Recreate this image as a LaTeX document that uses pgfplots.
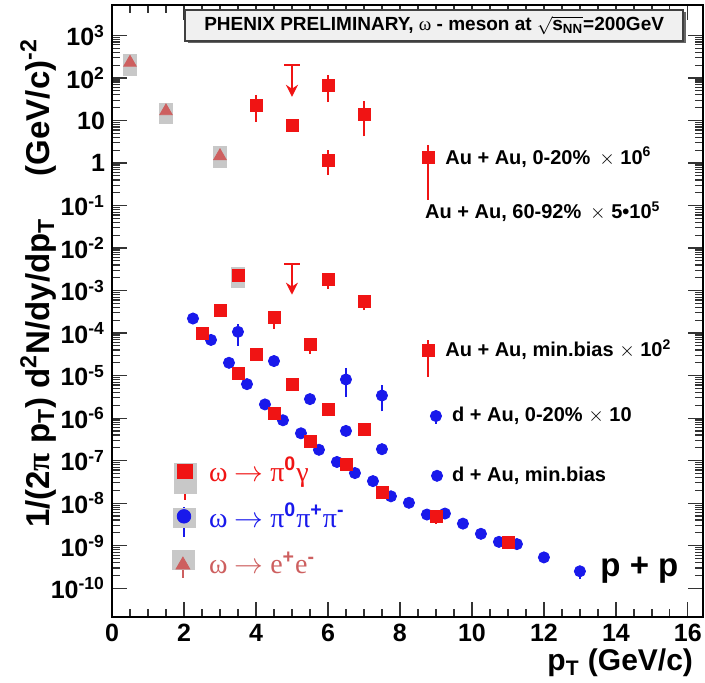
\documentclass[border=0pt]{standalone}
\usepackage{fontspec}
\setmainfont{Liberation Sans}
\newfontfamily\serif{Liberation Serif}
\newfontfamily\sans{Liberation Sans}
\usepackage{pgfplots}
\usepackage{pgfplotstable}
\pgfplotsset{compat=1.18}
\usetikzlibrary{arrows.meta,shadows}
\definecolor{rred}{RGB}{240,20,20}
\definecolor{rblue}{RGB}{25,25,235}
\definecolor{rtri}{RGB}{205,95,95}
\definecolor{sysgray}{RGB}{200,200,200}
\definecolor{boxgray}{RGB}{240,240,240}

\pgfplotstableread{
x y ep em
4.0 23 11 12
5.0 7.5 0.8 0.8
6.0 66 32 34
7.0 14 10 9
6.0 1.17 0.53 0.54
3.5 2.3e-3 0.2e-3 0.2e-3
6.0 1.8e-3 0.2e-3 0.5e-3
7.0 5.5e-4 0.5e-4 1.4e-4
3.0 3.5e-4 0.3e-4 0.6e-4
4.5 2.4e-4 0.3e-4 0.9e-4
5.5 5.4e-5 0.5e-5 1.6e-5
2.5 1.0e-4 0.1e-4 0.1e-4
4.0 3.2e-5 0.3e-5 0.3e-5
5.0 6.3e-6 0.5e-6 0.5e-6
6.0 1.6e-6 0.1e-6 0.3e-6
7.0 5.4e-7 0.4e-7 0.4e-7
3.5 1.1e-5 0.1e-5 0.1e-5
4.5 1.3e-6 0.1e-6 0.1e-6
5.5 2.8e-7 0.2e-7 0.4e-7
6.5 8.1e-8 0.5e-8 0.8e-8
7.5 1.8e-8 0.1e-8 0.2e-8
9.0 4.8e-9 0.5e-9 1.0e-9
11.0 1.17e-9 0.1e-9 0.2e-9
}\redsq

\pgfplotstableread{
x y ep em
3.5 1.07e-4 0.3e-4 0.48e-4
4.5 2.2e-5 0.2e-5 0.2e-5
5.5 2.8e-6 0.2e-6 0.2e-6
6.5 8.1e-6 4.9e-6 4.4e-6
7.5 3.4e-6 1.7e-6 1.7e-6
6.5 5.0e-7 0.3e-7 0.3e-7
7.5 1.86e-7 0.1e-7 0.1e-7
2.25 2.2e-4 0.1e-4 0.1e-4
2.75 6.9e-5 0.3e-5 0.3e-5
3.25 2.0e-5 0.1e-5 0.1e-5
3.75 6.3e-6 0.3e-6 0.3e-6
4.25 2.1e-6 0.1e-6 0.1e-6
4.75 8.9e-7 0.4e-7 0.4e-7
5.25 4.4e-7 0.2e-7 0.2e-7
5.75 1.8e-7 0.1e-7 0.1e-7
6.25 9.3e-8 0.5e-8 0.5e-8
6.75 5.1e-8 0.3e-8 0.3e-8
7.25 3.3e-8 0.2e-8 0.2e-8
7.75 1.45e-8 0.1e-8 0.1e-8
8.25 1.02e-8 0.05e-8 0.05e-8
8.75 5.4e-9 0.3e-9 0.3e-9
9.25 5.7e-9 0.3e-9 0.3e-9
9.75 3.3e-9 0.2e-9 0.3e-9
10.25 1.9e-9 0.1e-9 0.2e-9
10.75 1.23e-9 0.1e-9 0.1e-9
11.25 1.09e-9 0.1e-9 0.1e-9
12.0 5.3e-10 0.5e-10 0.8e-10
13.0 2.5e-10 0.3e-10 0.6e-10
}\bluec

\pgfplotstableread{
x y ep em
0.5 230 20 20
1.5 16.6 1.5 1.5
3.0 1.46 0.1 0.1
}\tri

\begin{document}
\begin{tikzpicture}
\useasboundingbox (-56pt,-32.5pt) rectangle (296.5pt,308.5pt);
\begin{axis}[
  at={(0,0)}, anchor=south west, scale only axis,
  width=295.5pt, height=306pt,
  xmin=0, xmax=16.42, ymode=log, ymin=2.1e-11, ymax=5.2e3,
  clip=false,
  axis line style={line width=0.8pt},
  xtick={0,2,4,6,8,10,12,14,16},
  xticklabels={0,2,4,6,8,10,12,14,16},
  minor x tick num=3,
  ytickten={-10,-9,-8,-7,-6,-5,-4,-3,-2,-1,0,1,2,3},
  yticklabels={10\textsuperscript{-10},10\textsuperscript{-9},10\textsuperscript{-8},10\textsuperscript{-7},10\textsuperscript{-6},10\textsuperscript{-5},10\textsuperscript{-4},10\textsuperscript{-3},10\textsuperscript{-2},10\textsuperscript{-1},1,10,10\textsuperscript{2},10\textsuperscript{3}},
  tick align=inside,
  major tick length=7.5pt, minor tick length=4pt,
  tick style={line width=0.6pt, black!80},
  ticklabel style={font=\fontsize{12.5}{12.5}\selectfont\bfseries},
  ylabel={1/(2{\serif π} p\textsubscript{T}) d\textsuperscript{2}N/dy/dp\textsubscript{T}\quad\ (GeV/c)\textsuperscript{-2}},
  ylabel style={at={(axis description cs:-0.125,0.545)}, anchor=center, font=\fontsize{16.5}{16.5}\selectfont\bfseries},
  error bars/y dir=both, error bars/y explicit,
  error bars/error bar style={line width=0.6pt},
  error bars/error mark options={mark size=1.5pt, line width=0.6pt},
]
% systematic boxes
\addplot[only marks, color=sysgray, mark=square*, mark size=3.4pt, mark options={draw=sysgray, fill=sysgray, yscale=1.5}, error bars/y dir=none]
  coordinates {(0.5,202) (1.5,14.6) (3.0,1.38) (3.5,2.07e-3)};
\addplot[only marks, color=sysgray, mark=square*, mark size=5.5pt, mark options={draw=sysgray, fill=sysgray, yscale=1.36}, error bars/y dir=none]
  coordinates {(2.03,3.9e-8)};
\addplot[only marks, color=sysgray, mark=square*, mark size=5.5pt, mark options={draw=sysgray, fill=sysgray, yscale=0.86}, error bars/y dir=none]
  coordinates {(2.0,4.6e-9) (1.97,4.6e-10)};

% blue circles
\addplot[only marks, mark=*, mark size=2.8pt, color=rblue, mark options={fill=rblue, draw=rblue}]
  table[x=x, y=y, y error plus=ep, y error minus=em] {\bluec};
% triangles
\addplot[only marks, mark=triangle*, mark size=3.6pt, color=rtri, mark options={fill=rtri, draw=rtri}]
  table[x=x, y=y, y error plus=ep, y error minus=em] {\tri};
% red squares
\addplot[only marks, mark=square*, mark size=3pt, color=rred, mark options={fill=rred, draw=rred}]
  table[x=x, y=y, y error plus=ep, y error minus=em] {\redsq};

% upper limits
\addplot[rred, line width=1.3pt, -{Stealth[length=6pt,width=6pt]}, error bars/y dir=none] coordinates {(5,204) (5,36)};
\addplot[rred, line width=1.3pt, error bars/y dir=none] coordinates {(4.79,204) (5.21,204)};
\addplot[rred, line width=1.3pt, -{Stealth[length=6pt,width=6pt]}, error bars/y dir=none] coordinates {(5,4.2e-3) (5,8e-4)};
\addplot[rred, line width=1.3pt, error bars/y dir=none] coordinates {(4.79,4.2e-3) (5.21,4.2e-3)};

% in-plot legend markers
\addplot[rred, line width=0.6pt, error bars/y dir=none] coordinates {(8.78,2.6) (8.78,0.135)};
\addplot[only marks, mark=square*, mark size=3pt, color=rred, mark options={fill=rred, draw=rred}, error bars/y dir=none]
  coordinates {(8.78,1.38)};
\addplot[rred, line width=0.6pt, error bars/y dir=none] coordinates {(8.78,6.8e-5) (8.78,9.1e-6)};
\addplot[only marks, mark=square*, mark size=3pt, color=rred, mark options={fill=rred, draw=rred}, error bars/y dir=none]
  coordinates {(8.78,4.0e-5)};
\addplot[rblue, line width=0.6pt, error bars/y dir=none] coordinates {(9.0,1.12e-6) (9.0,7.2e-7)};
\addplot[only marks, mark=*, mark size=2.8pt, color=rblue, mark options={fill=rblue, draw=rblue}, error bars/y dir=none]
  coordinates {(9.0,1.12e-6) (9.03,4.4e-8)};

% left legend markers
\addplot[rred, line width=0.8pt, error bars/y dir=none] coordinates {(2.03,8.7e-8) (2.03,1.17e-8)};
\addplot[only marks, mark=square*, mark size=3.6pt, color=rred, mark options={fill=rred, draw=rred}, error bars/y dir=none]
  coordinates {(2.03,5.5e-8)};
\addplot[rblue, line width=0.8pt, error bars/y dir=none] coordinates {(2.0,8.1e-9) (2.0,1.58e-9)};
\addplot[only marks, mark=*, mark size=3.4pt, color=rblue, mark options={fill=rblue, draw=rblue}, error bars/y dir=none]
  coordinates {(2.0,4.9e-9)};
\addplot[rtri, line width=0.8pt, error bars/y dir=none] coordinates {(1.97,6e-10) (1.97,1.74e-10)};
\addplot[only marks, mark=triangle*, mark size=4pt, color=rtri, mark options={fill=rtri, draw=rtri}, error bars/y dir=none]
  coordinates {(1.97,3.5e-10)};

% texts
\node[draw=black!75, fill=boxgray, line width=0.7pt, minimum width=249pt, minimum height=15.5pt, inner sep=0pt,
  drop shadow={shadow xshift=1.2pt, shadow yshift=-1.2pt, fill=black!60, opacity=1},
  font=\fontsize{9.5}{10}\selectfont\bfseries] at (axis cs:8.95,1718)
  {PHENIX PRELIMINARY, {\serif\mdseries ω} - meson at $\sqrt{\hbox{s\textsubscript{NN}}}$=200GeV};

\begin{scope}[every node/.style={anchor=west, inner sep=0pt, font=\fontsize{10}{10}\selectfont\bfseries}]
\node at (axis cs:9.25,1.38) {Au + Au, 0-20\%\, $\times$ 10\textsuperscript{6}};
\node at (axis cs:8.69,0.0703) {Au + Au, 60-92\%\, $\times$ 5\textbullet10\textsuperscript{5}};
\node at (axis cs:9.25,4.0e-5) {Au + Au, min.bias $\times$ 10\textsuperscript{2}};
\node at (axis cs:9.44,1.12e-6) {d + Au, 0-20\% $\times$ 10};
\node at (axis cs:9.44,4.4e-8) {d + Au, min.bias};
\end{scope}
\node[anchor=west, inner sep=0pt, font=\fontsize{16.5}{16.5}\selectfont\bfseries] at (axis cs:13.56,2.6e-10) {p + p};

\begin{scope}[every node/.style={anchor=west, font=\fontsize{14}{14}\selectfont\serif}]
\node[text=rred] at (axis cs:2.5,5.4e-8) {ω $\rightarrow$ π\textsuperscript{\sans\bfseries 0}γ};
\node[text=rblue] at (axis cs:2.5,5.2e-9) {ω $\rightarrow$ π\textsuperscript{\sans\bfseries 0}π\textsuperscript{\sans\bfseries +}π\textsuperscript{\sans\bfseries -}};
\node[text=rtri] at (axis cs:2.5,3.9e-10) {ω $\rightarrow$ e\textsuperscript{\sans\bfseries +}e\textsuperscript{\sans\bfseries -}};
\end{scope}

\node[anchor=east, font=\fontsize{15}{15}\selectfont\bfseries] at (axis description cs:0.995,-0.075) {p\textsubscript{T} (GeV/c)};
\end{axis}
\end{tikzpicture}
\end{document}
